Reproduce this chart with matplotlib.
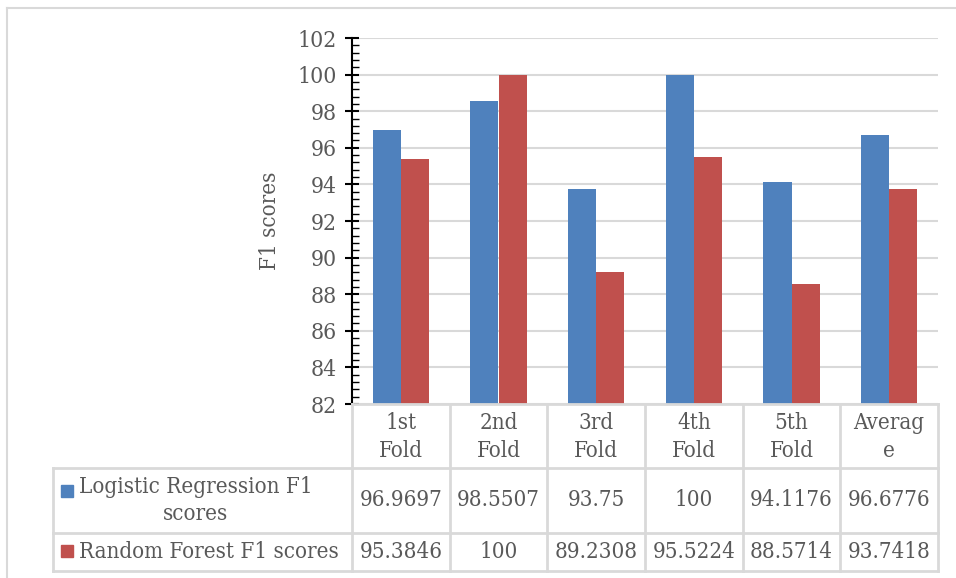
import matplotlib
matplotlib.use("Agg")
import matplotlib.pyplot as plt
import numpy as np
from matplotlib.patches import Rectangle
from matplotlib.lines import Line2D

# data
categories = ["1st\nFold", "2nd\nFold", "3rd\nFold", "4th\nFold", "5th\nFold", "Averag\ne"]
lr_scores = [96.9697, 98.5507, 93.75, 100, 94.1176, 96.6776]
rf_scores = [95.3846, 100, 89.2308, 95.5224, 88.5714, 93.7418]
lr_labels = ["96.9697", "98.5507", "93.75", "100", "94.1176", "96.6776"]
rf_labels = ["95.3846", "100", "89.2308", "95.5224", "88.5714", "93.7418"]
series_names = ["Logistic Regression F1\nscores", "Random Forest F1 scores"]

blue = "#4F81BD"
red = "#C0504D"
txt = "#595959"
grid = "#D9D9D9"
fnt = "DejaVu Serif"
fs = 16
tk = dict(fontsize=fs, color=txt, family=fnt, fontstretch="condensed")

W, H = 956, 578
fig = plt.figure(figsize=(W / 100, H / 100), dpi=100)

def fx(x):
    return x / W

def fy(y):
    return 1 - y / H

# axes placed in pixel coords
ax_l, ax_r, ax_t, ax_b = 352, 938, 38, 404
ax = fig.add_axes([fx(ax_l), fy(ax_b), (ax_r - ax_l) / W, (ax_b - ax_t) / H])

x = np.arange(len(categories))
w = 0.287
ax.bar(x - w / 2, lr_scores, w, color=blue, zorder=3)
ax.bar(x + w / 2, rf_scores, w, color=red, zorder=3)

ax.set_xlim(-0.5, len(categories) - 0.5)
ax.set_ylim(82, 102)
ax.set_yticks(np.arange(82, 103, 2))
ax.set_yticks(np.arange(82, 102.01, 0.4), minor=True)
ax.yaxis.grid(True, color=grid, linewidth=1.5, zorder=0)
ax.set_xticks([])
for s in ["top", "right", "bottom"]:
    ax.spines[s].set_visible(False)
ax.spines["left"].set_linewidth(1.5)
ax.tick_params(axis="y", which="major", direction="inout", length=10, width=1.5, pad=6)
ax.tick_params(axis="y", which="minor", direction="in", length=5, width=1)
ax.set_yticklabels([str(v) for v in range(82, 103, 2)], fontsize=16.5, color=txt,
                   family=fnt, fontstretch="condensed")
ax.set_ylabel("F1 scores", labelpad=12, **tk)

# outer chart border
fig.add_artist(Line2D([fx(7), fx(7)], [fy(8), 0], transform=fig.transFigure, color=grid, lw=1.5))
fig.add_artist(Line2D([fx(7), 1], [fy(8), fy(8)], transform=fig.transFigure, color=grid, lw=1.5))

# data table
col_edges = np.linspace(ax_l, ax_r, len(categories) + 1)
row_top, row1, row2, row_bot = 404, 468, 533, 571
tab_left = 53

def hline(x0, x1, y):
    fig.add_artist(Line2D([fx(x0), fx(x1)], [fy(y), fy(y)], transform=fig.transFigure, color=grid, lw=2))

def vline(x, y0, y1):
    fig.add_artist(Line2D([fx(x), fx(x)], [fy(y0), fy(y1)], transform=fig.transFigure, color=grid, lw=2))

hline(ax_l, ax_r, row_top)
hline(tab_left, ax_r, row1)
hline(tab_left, ax_r, row2)
hline(tab_left, ax_r, row_bot)
for ce in col_edges:
    vline(ce, row_top, row_bot)
vline(tab_left, row1, row_bot)

for i, cat in enumerate(categories):
    cx = (col_edges[i] + col_edges[i + 1]) / 2
    fig.text(fx(cx), fy((row_top + row1) / 2 + 1), cat, ha="center", va="center",
             linespacing=1.3, **tk)
    fig.text(fx(cx), fy((row1 + row2) / 2), lr_labels[i], ha="center", va="center", **tk)
    fig.text(fx(cx), fy((row2 + row_bot) / 2), rf_labels[i], ha="center", va="center", **tk)

# legend keys in the table
fig.add_artist(Rectangle((fx(61), fy(497)), 12 / W, 12 / H, transform=fig.transFigure, color=blue))
fig.add_artist(Rectangle((fx(61), fy(557)), 12 / W, 12 / H, transform=fig.transFigure, color=red))
fig.text(fx(79), fy((row1 + row2) / 2), series_names[0], ha="left", va="center",
         multialignment="center", linespacing=1.3, **tk)
fig.text(fx(79), fy((row2 + row_bot) / 2), series_names[1], ha="left", va="center", **tk)

fig.savefig("out.png", dpi=100)
